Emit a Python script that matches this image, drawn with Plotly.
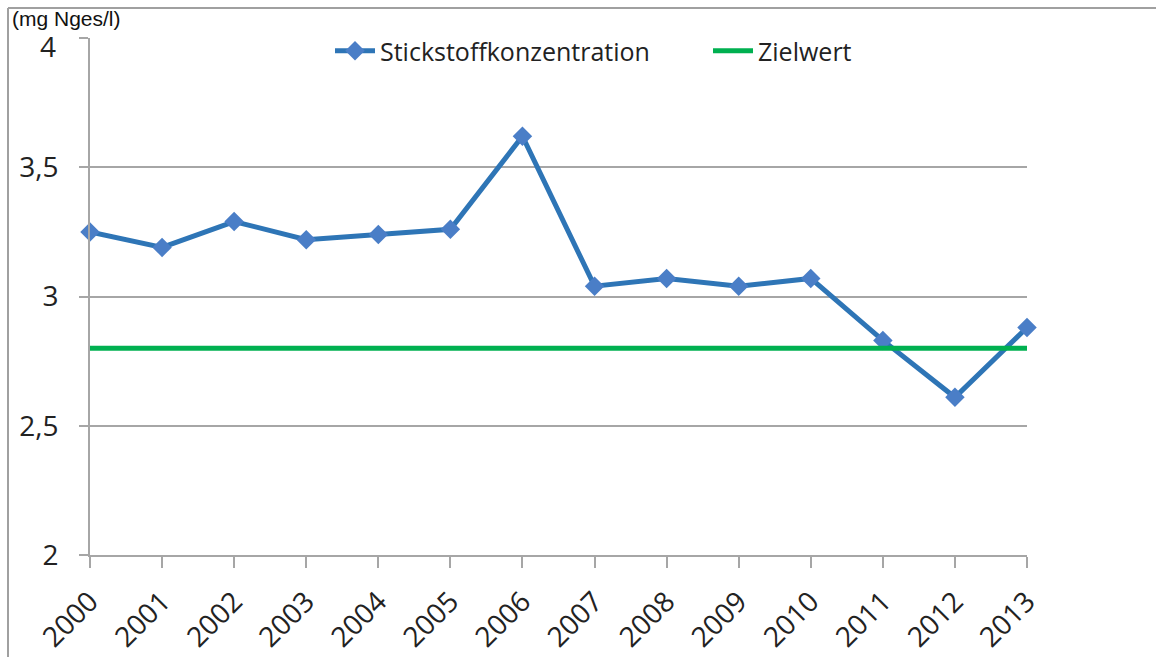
import plotly.graph_objects as go

# Jahresmittel der Stickstoffkonzentration (mg Nges/l)
jahre = [2000, 2001, 2002, 2003, 2004, 2005, 2006, 2007, 2008, 2009, 2010, 2011, 2012, 2013]
konzentration = [3.25, 3.19, 3.29, 3.22, 3.24, 3.26, 3.62, 3.04, 3.07, 3.04, 3.07, 2.83, 2.61, 2.88]
zielwert = 2.8
y_ticks = [2, 2.5, 3, 3.5, 4]
y_ticktext = ["2", "2,5", "3", "3,5", ""]  # the top label "4" is set a little lower, below

W, H = 1156, 657
L, R, T, B = 90, 1027, 38, 555  # plot area in pixels

def px_x(p):
    return (p - L) / (R - L)

def px_y(p):
    return (B - p) / (B - T)

font_family = "Open Sans, Noto Sans, sans-serif"
grid = "#A6A6A6"
tick_font = dict(family=font_family, size=28, color="#222222")
legend_font = dict(family=font_family, size=25, color="#222222")

fig = go.Figure()

fig.add_trace(go.Scatter(
    x=jahre, y=konzentration, mode="lines+markers",
    name="Stickstoffkonzentration", legend="legend",
    line=dict(color="#2E75B6", width=5),
    marker=dict(symbol="diamond", size=15, color="#4A7EC7"),
    cliponaxis=False,
))

fig.add_trace(go.Scatter(
    x=[jahre[0], jahre[-1]], y=[zielwert, zielwert], mode="lines",
    name="Zielwert", legend="legend2",
    line=dict(color="#00B050", width=5),
    cliponaxis=False,
))

fig.update_layout(
    width=W, height=H,
    margin=dict(l=L, r=W - R, t=T, b=H - B, pad=0),
    paper_bgcolor="white", plot_bgcolor="white",
    showlegend=True,
    legend=dict(
        orientation="h", x=px_x(330), y=px_y(51), xanchor="left", yanchor="middle",
        font=legend_font, bgcolor="rgba(255,255,255,0)", itemwidth=40,
    ),
    legend2=dict(
        orientation="h", x=px_x(708), y=px_y(51), xanchor="left", yanchor="middle",
        font=legend_font, bgcolor="rgba(255,255,255,0)", itemwidth=40,
    ),
    xaxis=dict(
        range=[jahre[0], jahre[-1]], tickvals=jahre, ticktext=[str(j) for j in jahre],
        tickangle=-45, showgrid=False, zeroline=False, automargin=False,
        showline=True, linecolor=grid, linewidth=2,
        ticks="outside", ticklen=11, tickcolor=grid, tickwidth=2,
        tickfont=tick_font, ticklabelstandoff=6,
    ),
    yaxis=dict(
        range=[2, 4], tickvals=y_ticks, ticktext=y_ticktext,
        showgrid=True, gridcolor=grid, gridwidth=2, automargin=False,
        zeroline=False, showline=True, linecolor=grid, linewidth=2,
        ticks="outside", ticklen=9, tickcolor=grid, tickwidth=2,
        tickfont=tick_font, ticklabelstandoff=15,
    ),
    annotations=[
        dict(text="(mg Nges/l)", xref="paper", yref="paper",
             x=px_x(10), y=px_y(18), xanchor="left", yanchor="middle", showarrow=False,
             font=dict(family="Liberation Sans, Arial, sans-serif", size=21, color="#111111")),
        dict(text="4", xref="paper", yref="paper",
             x=px_x(58), y=px_y(46), xanchor="right", yanchor="middle", showarrow=False,
             font=tick_font),
    ],
    shapes=[
        dict(type="line", xref="paper", yref="paper",
             x0=px_x(8), x1=px_x(W + 5), y0=px_y(8), y1=px_y(8),
             line=dict(color="#A0A0A0", width=2)),
        dict(type="line", xref="paper", yref="paper",
             x0=px_x(8), x1=px_x(8), y0=px_y(8), y1=px_y(H + 5),
             line=dict(color="#A0A0A0", width=2)),
    ],
)

fig.write_html("out.html")
